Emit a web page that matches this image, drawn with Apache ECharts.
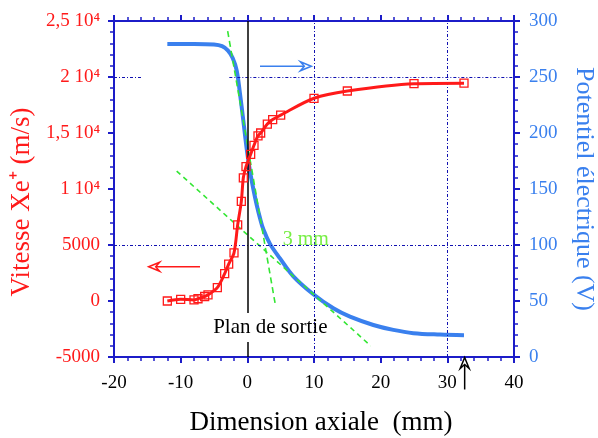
<!DOCTYPE html>
<html>
<head>
<meta charset="utf-8">
<script src="https://cdn.jsdelivr.net/npm/echarts@6/dist/echarts.min.js"></script>
<style>html,body{margin:0;padding:0;background:#fff;}#c{width:598px;height:438px;}</style>
</head>
<body>
<div id="c"></div>
<script>
// ---- data ----
var velX = [-12, -10, -8, -7.4, -6.4, -5.9, -4.5, -3.4, -2.8, -2.0, -1.45, -0.9, -0.6, -0.2, 0.5, 1.0, 1.6, 2.0, 3.0, 3.8, 5.0, 10, 15, 25, 32.5];
var velY = [0, 150, 100, 200, 400, 550, 1200, 2450, 3300, 4300, 6800, 8900, 11000, 12000, 13100, 13900, 14750, 15000, 15800, 16200, 16600, 18100, 18750, 19400, 19450];
var potX = [-12, -8, -5, -3.8, -2.9, -2.2, -1.6, -1.1, -0.6, -0.1, 0.4, 0.9, 1.4, 1.9, 2.4, 3.4, 4.9, 6.9, 9.9, 12.9, 15.4, 18.9, 21.9, 24.9, 28.9, 32.5];
var potY = [279.5, 279.5, 279, 277.5, 273.5, 267, 256, 235, 211, 186, 166, 150, 136, 124, 114, 101, 88, 72, 56, 43.5, 36, 28.6, 24.2, 21.3, 20.0, 19.4];
var tangent1X = [-2.95, 4.25];
var tangent1Y = [291, 45];
var tangent2X = [-10.6, 18.5];
var tangent2Y = [166, 10];
var leftTickValues = [-5000, 0, 5000, 10000, 15000, 20000, 25000];
var leftTickLabels = ['-5000', '0', '5000', '1 10⁴', '1,5 10⁴', '2 10⁴', '2,5 10⁴'];

var FONT = "'Liberation Serif','Times New Roman',serif";
var AX = '#1c1cc8';
var RED = '#ff1a1a';
var BLUE = '#3a80ee';
var GREEN = '#33e633';

function zip(a, b) { return a.map(function (v, i) { return [v, b[i]]; }); }

var chart = echarts.init(document.getElementById('c'), null, {renderer: 'canvas'});

var gridStyle = {color: '#1010b0', width: 1, type: [3, 2, 1, 2]};

var option = {
  animation: false,
  backgroundColor: '#fff',
  grid: {left: 114, right: 84, top: 21, bottom: 81, containLabel: false, outerBoundsMode: 'none'},
  xAxis: [{
    type: 'value', min: -20, max: 40, interval: 10, position: 'bottom',
    axisLine: {onZero: false, lineStyle: {color: AX, width: 2}},
    axisTick: {inside: false, length: 6, lineStyle: {color: AX, width: 2}},
    minorTick: {show: true, splitNumber: 5, length: 4, lineStyle: {color: AX, width: 1.5}},
    splitLine: {show: false},
    axisLabel: {color: '#000', fontFamily: FONT, fontSize: 19, margin: 17},
    name: 'Dimension axiale  (mm)', nameLocation: 'middle', nameGap: 52,
    nameTextStyle: {color: '#000', fontFamily: FONT, fontSize: 27, padding: [0, 0, 0, 14]}
  }, {
    type: 'value', min: -20, max: 40, interval: 10, position: 'top',
    axisLine: {onZero: false, lineStyle: {color: AX, width: 2}},
    axisTick: {inside: false, length: 6, lineStyle: {color: AX, width: 2}},
    minorTick: {show: true, splitNumber: 5, length: 4, lineStyle: {color: AX, width: 1.5}},
    splitLine: {show: false},
    axisLabel: {show: false}
  }],
  yAxis: [{
    type: 'value', min: -5000, max: 25000, interval: 5000, position: 'left',
    axisLine: {show: true, onZero: false, lineStyle: {color: AX, width: 2}},
    axisTick: {show: true, inside: false, length: 6, lineStyle: {color: AX, width: 2}},
    minorTick: {show: true, splitNumber: 5, length: 4, lineStyle: {color: AX, width: 1.5}},
    splitLine: {show: false},
    axisLabel: {
      color: RED, fontFamily: FONT, fontSize: 19, margin: 14,
      formatter: function (v) { var i = leftTickValues.indexOf(v); return i >= 0 ? leftTickLabels[i] : ''; }
    },
    name: 'Vitesse Xe⁺ (m/s)', nameLocation: 'middle', nameGap: 77, nameRotate: 90,
    nameTextStyle: {color: RED, fontFamily: FONT, fontSize: 27, padding: [0, 26, 0, 0]}
  }, {
    type: 'value', min: 0, max: 300, interval: 50, position: 'right',
    axisLine: {show: true, onZero: false, lineStyle: {color: AX, width: 2}},
    axisTick: {show: true, inside: false, length: 6, lineStyle: {color: AX, width: 2}},
    minorTick: {show: true, splitNumber: 5, length: 4, lineStyle: {color: AX, width: 1.5}},
    splitLine: {show: false},
    axisLabel: {color: BLUE, fontFamily: FONT, fontSize: 19, margin: 15},
    name: 'Potentiel électrique (V)', nameLocation: 'middle', nameGap: 57, nameRotate: -90,
    nameTextStyle: {color: BLUE, fontFamily: FONT, fontSize: 26}
  }],
  series: [
    {
      type: 'line', xAxisIndex: 0, yAxisIndex: 0, data: [], silent: true,
      markLine: {
        silent: true, symbol: ['none', 'none'], label: {show: false},
        lineStyle: gridStyle,
        data: [
          [{coord: [-20, 20000]}, {coord: [-15.8, 20000]}],
          [{coord: [-2.7, 20000]}, {coord: [40, 20000]}],
          [{coord: [-20, 5000]}, {coord: [40, 5000]}],
          [{coord: [10, -5000]}, {coord: [10, 25000]}],
          [{coord: [30, -5000]}, {coord: [30, 25000]}],
          [{coord: [0, 25000], lineStyle: {color: '#000', width: 1.5, type: 'solid'}}, {coord: [0, -1070]}],
          [{coord: [0, -3660], lineStyle: {color: '#000', width: 1.5, type: 'solid'}}, {coord: [0, -5000]}]
        ]
      }
    },
    {
      name: 'tangent1', type: 'line', xAxisIndex: 0, yAxisIndex: 1, z: 4,
      data: zip(tangent1X, tangent1Y), showSymbol: false, symbol: 'none',
      lineStyle: {color: GREEN, width: 1.6, type: [6, 4]}
    },
    {
      name: 'tangent2', type: 'line', xAxisIndex: 0, yAxisIndex: 1, z: 4,
      data: zip(tangent2X, tangent2Y), showSymbol: false, symbol: 'none',
      lineStyle: {color: GREEN, width: 1.6, type: [5, 4]}
    },
    {
      name: 'potentiel', type: 'line', xAxisIndex: 0, yAxisIndex: 1, z: 3,
      data: zip(potX, potY), smooth: 0.35, symbol: 'none',
      lineStyle: {color: BLUE, width: 4}
    },
    {
      name: 'vitesse', type: 'line', xAxisIndex: 0, yAxisIndex: 0, z: 5,
      data: zip(velX, velY), smooth: 0.3,
      symbol: 'rect', symbolSize: 8, showAllSymbol: true,
      itemStyle: {color: 'rgba(255,255,255,0)', borderColor: RED, borderWidth: 1.3},
      lineStyle: {color: RED, width: 3}
    }
  ]
};
chart.setOption(option);

// ---- annotations positioned from data coordinates ----
function pL(x, y) { return chart.convertToPixel({xAxisIndex: 0, yAxisIndex: 0}, [x, y]); }
function pR(x, y) { return chart.convertToPixel({xAxisIndex: 0, yAxisIndex: 1}, [x, y]); }

function arrow(a, b, color, w) {
  var dx = b[0] - a[0], dy = b[1] - a[1];
  var L = Math.sqrt(dx * dx + dy * dy); var ux = dx / L, uy = dy / L;
  var nx = -uy, ny = ux;
  var hl = 11, hw = 4.5, notch = 4;
  var base = [b[0] - ux * hl, b[1] - uy * hl];
  var pts = [
    b,
    [base[0] + nx * hw, base[1] + ny * hw],
    [b[0] - ux * (hl - notch), b[1] - uy * (hl - notch)],
    [base[0] - nx * hw, base[1] - ny * hw]
  ];
  var shaftEnd = [b[0] - ux * (hl - notch), b[1] - uy * (hl - notch)];
  return [
    {type: 'line', shape: {x1: a[0], y1: a[1], x2: shaftEnd[0], y2: shaftEnd[1]}, style: {stroke: color, lineWidth: w}, z: 20},
    {type: 'polygon', shape: {points: pts}, style: {fill: '#fff', stroke: color, lineWidth: 1.5}, z: 20}
  ];
}

var g = [];
g = g.concat(arrow(pL(-7.1, 3060), pL(-14.8, 3060), RED, 1.5));
g = g.concat(arrow(pR(1.9, 259.6), pR(9.6, 259.6), BLUE, 1.5));
g = g.concat(arrow(pL(32.6, -7900), pL(32.6, -5050), '#000', 1.5));
var t1 = pL(3.45, -2400);
g.push({type: 'text', x: t1[0], y: t1[1], z: 20,
  style: {text: 'Plan de sortie', font: '21px ' + FONT, fill: '#000', align: 'center', verticalAlign: 'middle'}});
var t2 = pL(5.3, 5500);
g.push({type: 'text', x: t2[0], y: t2[1], z: 20,
  style: {text: '3 mm', font: '20px ' + FONT, fill: '#77ee44', align: 'left', verticalAlign: 'middle'}});
chart.setOption({graphic: g});
</script>
</body>
</html>
